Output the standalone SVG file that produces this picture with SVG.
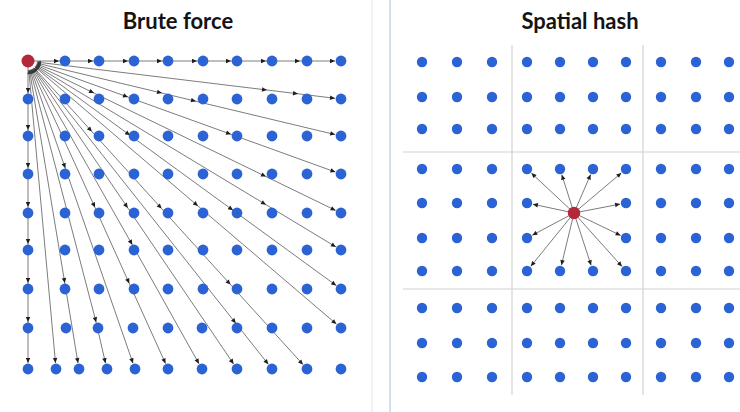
<svg xmlns="http://www.w3.org/2000/svg" width="740" height="412" viewBox="0 0 740 412">
  <style>
    .title { font-family: Lato, "Open Sans", "Liberation Sans", sans-serif; font-weight: 700; font-size: 22px; fill: #141414; text-anchor: middle; }
    .dot { fill: #2b62d4; }
    .src { fill: #b3293a; }
    .ray { fill: none; stroke: #5a5a5a; stroke-width: 0.8; marker-mid: url(#ah); marker-end: url(#ah); }
    .fan { marker-start: url(#ahs); }
    .grid { stroke: #d2d2d2; stroke-width: 1.2; fill: none; }
  </style>
  <defs>
    <marker id="ah" viewBox="0 0 10 10" refX="10" refY="5" markerWidth="6" markerHeight="5" markerUnits="userSpaceOnUse" orient="auto">
      <path d="M0,0.5 L10,5 L0,9.5 z" fill="#1e1e1e"/>
    </marker>
    <marker id="ahs" viewBox="0 0 10 10" refX="10" refY="5" markerWidth="5" markerHeight="4" markerUnits="userSpaceOnUse" orient="auto-start-reverse">
      <path d="M0,0.5 L10,5 L0,9.5 z" fill="#3a3a3a"/>
    </marker>
  </defs>

  <rect width="740" height="412" fill="#ffffff"/>

  <!-- panel divider -->
  <line x1="372" y1="0" x2="372" y2="412" stroke="#e4e4e4" stroke-width="1"/>
  <line x1="390" y1="0" x2="390" y2="412" stroke="#c3d4f2" stroke-width="1.5"/>

  <text class="title" x="178" y="29">Brute force</text>
  <text class="title" x="580" y="29">Spatial hash</text>

  <!-- spatial hash cell boundaries -->
  <g id="hash-grid">
    <line class="grid" x1="512" y1="45" x2="512" y2="395"/>
    <line class="grid" x1="643" y1="45" x2="643" y2="395"/>
    <line class="grid" x1="403" y1="152" x2="740" y2="152"/>
    <line class="grid" x1="403" y1="289" x2="740" y2="289"/>
  </g>

  <!-- connectors -->
  <g id="connectors">
    <!-- brute force: top row and left column chains -->
    <polyline class="ray" points="28,61 59,61 93,61 128,61 162,61 197,61 231,61 266,61 300,61 335,61"/>
    <polyline class="ray" points="28,61 28,93 28,130 28,168 28,207 28,244 28,283 28,322 28,363"/>
    <!-- brute force: rays to right column -->
    <polyline class="ray fan" points="36.9,62.1 267,90 298,93.8 335,98.3"/>
    <polyline class="ray fan" points="36.8,63.1 162,93.1 196,101.3 335.2,134.6"/>
    <polyline class="ray fan" points="36.5,64.1 128,97.1 231,134.3 335.4,172"/>
    <polyline class="ray fan" points="36.1,64.9 94,93.1 266,176.6 335.6,210.4"/>
    <polyline class="ray fan" points="35.7,65.7 266,204.7 335.9,246.9"/>
    <polyline class="ray fan" points="35.3,66.3 130,135.3 233,210.3 336.2,285.5"/>
    <polyline class="ray fan" points="34.8,66.8 198,206 336.4,324.1"/>
    <!-- brute force: rays to bottom row -->
    <polyline class="ray fan" points="34,67.7 91.9,131.6 161.6,208.6 230.5,284.6 303,364.6"/>
    <polyline class="ray fan" points="33.6,68.1 235.8,323.3 268.3,364.3"/>
    <polyline class="ray fan" points="33.1,68.4 127.8,208 233.6,364"/>
    <polyline class="ray fan" points="32.4,68.8 132.3,244.8 199,363.8"/>
    <polyline class="ray fan" points="31.7,69.2 95,207.5 129.3,283.5 165.5,363.5"/>
    <polyline class="ray fan" points="31,69.5 65.3,168.3 133,363.3"/>
    <polyline class="ray fan" points="30.2,69.7 96.1,322.2 105.5,363.2"/>
    <polyline class="ray fan" points="29.5,69.9 64.8,283.1 78,363.1"/>
    <polyline class="ray fan" points="28.8,70 55.5,363"/>
    <!-- spatial hash: query to neighbours in the cell -->
    <polyline class="ray" points="574,213 531.4,173.1"/>
    <polyline class="ray" points="574,213 561.8,174.7"/>
    <polyline class="ray" points="574,213 590.6,174.5"/>
    <polyline class="ray" points="574,213 621.4,172.9"/>
    <polyline class="ray" points="574,213 532.9,204.2"/>
    <polyline class="ray" points="574,213 620.1,204.1"/>
    <polyline class="ray" points="574,213 532.3,235.2"/>
    <polyline class="ray" points="574,213 620.6,235.4"/>
    <polyline class="ray" points="574,213 530.8,266.3"/>
    <polyline class="ray" points="574,213 561.4,265.2"/>
    <polyline class="ray" points="574,213 591.1,265.3"/>
    <polyline class="ray" points="574,213 622,266.5"/>
  </g>

  <!-- brute force points -->
  <g id="bf-points">
    <g id="bf-source"><circle class="src" cx="28" cy="61" r="6.5"/></g>
    <g id="bf-r1c2"><circle class="dot" cx="65" cy="61" r="5.4"/></g>
    <g id="bf-r1c3"><circle class="dot" cx="99" cy="61" r="5.4"/></g>
    <g id="bf-r1c4"><circle class="dot" cx="134" cy="61" r="5.4"/></g>
    <g id="bf-r1c5"><circle class="dot" cx="168" cy="61" r="5.4"/></g>
    <g id="bf-r1c6"><circle class="dot" cx="203" cy="61" r="5.4"/></g>
    <g id="bf-r1c7"><circle class="dot" cx="237" cy="61" r="5.4"/></g>
    <g id="bf-r1c8"><circle class="dot" cx="272" cy="61" r="5.4"/></g>
    <g id="bf-r1c9"><circle class="dot" cx="307" cy="61" r="5.4"/></g>
    <g id="bf-r1c10"><circle class="dot" cx="341" cy="61" r="5.4"/></g>

    <g id="bf-r2c1"><circle class="dot" cx="28" cy="99" r="5.4"/></g>
    <g id="bf-r2c2"><circle class="dot" cx="65" cy="99" r="5.4"/></g>
    <g id="bf-r2c3"><circle class="dot" cx="99" cy="99" r="5.4"/></g>
    <g id="bf-r2c4"><circle class="dot" cx="134" cy="99" r="5.4"/></g>
    <g id="bf-r2c5"><circle class="dot" cx="168" cy="99" r="5.4"/></g>
    <g id="bf-r2c6"><circle class="dot" cx="203" cy="99" r="5.4"/></g>
    <g id="bf-r2c7"><circle class="dot" cx="237" cy="99" r="5.4"/></g>
    <g id="bf-r2c8"><circle class="dot" cx="272" cy="99" r="5.4"/></g>
    <g id="bf-r2c9"><circle class="dot" cx="307" cy="99" r="5.4"/></g>
    <g id="bf-r2c10"><circle class="dot" cx="341" cy="99" r="5.4"/></g>

    <g id="bf-r3c1"><circle class="dot" cx="28" cy="136" r="5.4"/></g>
    <g id="bf-r3c2"><circle class="dot" cx="65" cy="136" r="5.4"/></g>
    <g id="bf-r3c3"><circle class="dot" cx="99" cy="136" r="5.4"/></g>
    <g id="bf-r3c4"><circle class="dot" cx="134" cy="136" r="5.4"/></g>
    <g id="bf-r3c5"><circle class="dot" cx="168" cy="136" r="5.4"/></g>
    <g id="bf-r3c6"><circle class="dot" cx="203" cy="136" r="5.4"/></g>
    <g id="bf-r3c7"><circle class="dot" cx="237" cy="136" r="5.4"/></g>
    <g id="bf-r3c8"><circle class="dot" cx="272" cy="136" r="5.4"/></g>
    <g id="bf-r3c9"><circle class="dot" cx="307" cy="136" r="5.4"/></g>
    <g id="bf-r3c10"><circle class="dot" cx="341" cy="136" r="5.4"/></g>

    <g id="bf-r4c1"><circle class="dot" cx="28" cy="174" r="5.4"/></g>
    <g id="bf-r4c2"><circle class="dot" cx="65" cy="174" r="5.4"/></g>
    <g id="bf-r4c3"><circle class="dot" cx="99" cy="174" r="5.4"/></g>
    <g id="bf-r4c4"><circle class="dot" cx="134" cy="174" r="5.4"/></g>
    <g id="bf-r4c5"><circle class="dot" cx="168" cy="174" r="5.4"/></g>
    <g id="bf-r4c6"><circle class="dot" cx="203" cy="174" r="5.4"/></g>
    <g id="bf-r4c7"><circle class="dot" cx="237" cy="174" r="5.4"/></g>
    <g id="bf-r4c8"><circle class="dot" cx="272" cy="174" r="5.4"/></g>
    <g id="bf-r4c9"><circle class="dot" cx="307" cy="174" r="5.4"/></g>
    <g id="bf-r4c10"><circle class="dot" cx="341" cy="174" r="5.4"/></g>

    <g id="bf-r5c1"><circle class="dot" cx="28" cy="213" r="5.4"/></g>
    <g id="bf-r5c2"><circle class="dot" cx="65" cy="213" r="5.4"/></g>
    <g id="bf-r5c3"><circle class="dot" cx="99" cy="213" r="5.4"/></g>
    <g id="bf-r5c4"><circle class="dot" cx="134" cy="213" r="5.4"/></g>
    <g id="bf-r5c5"><circle class="dot" cx="168" cy="213" r="5.4"/></g>
    <g id="bf-r5c6"><circle class="dot" cx="203" cy="213" r="5.4"/></g>
    <g id="bf-r5c7"><circle class="dot" cx="237" cy="213" r="5.4"/></g>
    <g id="bf-r5c8"><circle class="dot" cx="272" cy="213" r="5.4"/></g>
    <g id="bf-r5c9"><circle class="dot" cx="307" cy="213" r="5.4"/></g>
    <g id="bf-r5c10"><circle class="dot" cx="341" cy="213" r="5.4"/></g>

    <g id="bf-r6c1"><circle class="dot" cx="28" cy="250" r="5.4"/></g>
    <g id="bf-r6c2"><circle class="dot" cx="65" cy="250" r="5.4"/></g>
    <g id="bf-r6c3"><circle class="dot" cx="99" cy="250" r="5.4"/></g>
    <g id="bf-r6c4"><circle class="dot" cx="134" cy="250" r="5.4"/></g>
    <g id="bf-r6c5"><circle class="dot" cx="168" cy="250" r="5.4"/></g>
    <g id="bf-r6c6"><circle class="dot" cx="203" cy="250" r="5.4"/></g>
    <g id="bf-r6c7"><circle class="dot" cx="237" cy="250" r="5.4"/></g>
    <g id="bf-r6c8"><circle class="dot" cx="272" cy="250" r="5.4"/></g>
    <g id="bf-r6c9"><circle class="dot" cx="307" cy="250" r="5.4"/></g>
    <g id="bf-r6c10"><circle class="dot" cx="341" cy="250" r="5.4"/></g>

    <g id="bf-r7c1"><circle class="dot" cx="28" cy="289" r="5.4"/></g>
    <g id="bf-r7c2"><circle class="dot" cx="65" cy="289" r="5.4"/></g>
    <g id="bf-r7c3"><circle class="dot" cx="99" cy="289" r="5.4"/></g>
    <g id="bf-r7c4"><circle class="dot" cx="134" cy="289" r="5.4"/></g>
    <g id="bf-r7c5"><circle class="dot" cx="168" cy="289" r="5.4"/></g>
    <g id="bf-r7c6"><circle class="dot" cx="203" cy="289" r="5.4"/></g>
    <g id="bf-r7c7"><circle class="dot" cx="237" cy="289" r="5.4"/></g>
    <g id="bf-r7c8"><circle class="dot" cx="272" cy="289" r="5.4"/></g>
    <g id="bf-r7c9"><circle class="dot" cx="307" cy="289" r="5.4"/></g>
    <g id="bf-r7c10"><circle class="dot" cx="341" cy="289" r="5.4"/></g>

    <g id="bf-r8c1"><circle class="dot" cx="28" cy="328" r="5.4"/></g>
    <g id="bf-r8c2"><circle class="dot" cx="66" cy="328" r="5.4"/></g>
    <g id="bf-r8c3"><circle class="dot" cx="98" cy="328" r="5.4"/></g>
    <g id="bf-r8c4"><circle class="dot" cx="133" cy="328" r="5.4"/></g>
    <g id="bf-r8c5"><circle class="dot" cx="168" cy="328" r="5.4"/></g>
    <g id="bf-r8c6"><circle class="dot" cx="202" cy="328" r="5.4"/></g>
    <g id="bf-r8c7"><circle class="dot" cx="237" cy="328" r="5.4"/></g>
    <g id="bf-r8c8"><circle class="dot" cx="272" cy="328" r="5.4"/></g>
    <g id="bf-r8c9"><circle class="dot" cx="307" cy="328" r="5.4"/></g>
    <g id="bf-r8c10"><circle class="dot" cx="341" cy="328" r="5.4"/></g>

    <g id="bf-r9c1"><circle class="dot" cx="28" cy="369" r="5.4"/></g>
    <g id="bf-r9c2"><circle class="dot" cx="56" cy="369" r="5.4"/></g>
    <g id="bf-r9c3"><circle class="dot" cx="79" cy="369" r="5.4"/></g>
    <g id="bf-r9c4"><circle class="dot" cx="107" cy="369" r="5.4"/></g>
    <g id="bf-r9c5"><circle class="dot" cx="135" cy="369" r="5.4"/></g>
    <g id="bf-r9c6"><circle class="dot" cx="168" cy="369" r="5.4"/></g>
    <g id="bf-r9c7"><circle class="dot" cx="202" cy="369" r="5.4"/></g>
    <g id="bf-r9c8"><circle class="dot" cx="237" cy="369" r="5.4"/></g>
    <g id="bf-r9c9"><circle class="dot" cx="272" cy="369" r="5.4"/></g>
    <g id="bf-r9c10"><circle class="dot" cx="307" cy="369" r="5.4"/></g>
    <g id="bf-r9c11"><circle class="dot" cx="341" cy="369" r="5.4"/></g>
  </g>

  <!-- spatial hash points -->
  <g id="sh-points">
    <g id="sh-r1c1"><circle class="dot" cx="422" cy="62" r="5.2"/></g>
    <g id="sh-r1c2"><circle class="dot" cx="457" cy="62" r="5.2"/></g>
    <g id="sh-r1c3"><circle class="dot" cx="492" cy="62" r="5.2"/></g>
    <g id="sh-r1c4"><circle class="dot" cx="527" cy="62" r="5.2"/></g>
    <g id="sh-r1c5"><circle class="dot" cx="560" cy="62" r="5.2"/></g>
    <g id="sh-r1c6"><circle class="dot" cx="593" cy="62" r="5.2"/></g>
    <g id="sh-r1c7"><circle class="dot" cx="626" cy="62" r="5.2"/></g>
    <g id="sh-r1c8"><circle class="dot" cx="661" cy="62" r="5.2"/></g>
    <g id="sh-r1c9"><circle class="dot" cx="696" cy="62" r="5.2"/></g>
    <g id="sh-r1c10"><circle class="dot" cx="729" cy="62" r="5.2"/></g>

    <g id="sh-r2c1"><circle class="dot" cx="422" cy="97" r="5.2"/></g>
    <g id="sh-r2c2"><circle class="dot" cx="457" cy="97" r="5.2"/></g>
    <g id="sh-r2c3"><circle class="dot" cx="492" cy="97" r="5.2"/></g>
    <g id="sh-r2c4"><circle class="dot" cx="527" cy="97" r="5.2"/></g>
    <g id="sh-r2c5"><circle class="dot" cx="560" cy="97" r="5.2"/></g>
    <g id="sh-r2c6"><circle class="dot" cx="593" cy="97" r="5.2"/></g>
    <g id="sh-r2c7"><circle class="dot" cx="626" cy="97" r="5.2"/></g>
    <g id="sh-r2c8"><circle class="dot" cx="661" cy="97" r="5.2"/></g>
    <g id="sh-r2c9"><circle class="dot" cx="696" cy="97" r="5.2"/></g>
    <g id="sh-r2c10"><circle class="dot" cx="729" cy="97" r="5.2"/></g>

    <g id="sh-r3c1"><circle class="dot" cx="422" cy="129" r="5.2"/></g>
    <g id="sh-r3c2"><circle class="dot" cx="457" cy="129" r="5.2"/></g>
    <g id="sh-r3c3"><circle class="dot" cx="492" cy="129" r="5.2"/></g>
    <g id="sh-r3c4"><circle class="dot" cx="527" cy="129" r="5.2"/></g>
    <g id="sh-r3c5"><circle class="dot" cx="560" cy="129" r="5.2"/></g>
    <g id="sh-r3c6"><circle class="dot" cx="593" cy="129" r="5.2"/></g>
    <g id="sh-r3c7"><circle class="dot" cx="626" cy="129" r="5.2"/></g>
    <g id="sh-r3c8"><circle class="dot" cx="661" cy="129" r="5.2"/></g>
    <g id="sh-r3c9"><circle class="dot" cx="696" cy="129" r="5.2"/></g>
    <g id="sh-r3c10"><circle class="dot" cx="729" cy="129" r="5.2"/></g>

    <g id="sh-r4c1"><circle class="dot" cx="422" cy="169" r="5.2"/></g>
    <g id="sh-r4c2"><circle class="dot" cx="457" cy="169" r="5.2"/></g>
    <g id="sh-r4c3"><circle class="dot" cx="492" cy="169" r="5.2"/></g>
    <g id="sh-r4c4"><circle class="dot" cx="527" cy="169" r="5.2"/></g>
    <g id="sh-r4c5"><circle class="dot" cx="560" cy="169" r="5.2"/></g>
    <g id="sh-r4c6"><circle class="dot" cx="593" cy="169" r="5.2"/></g>
    <g id="sh-r4c7"><circle class="dot" cx="626" cy="169" r="5.2"/></g>
    <g id="sh-r4c8"><circle class="dot" cx="661" cy="169" r="5.2"/></g>
    <g id="sh-r4c9"><circle class="dot" cx="696" cy="169" r="5.2"/></g>
    <g id="sh-r4c10"><circle class="dot" cx="729" cy="169" r="5.2"/></g>

    <g id="sh-r5c1"><circle class="dot" cx="422" cy="203" r="5.2"/></g>
    <g id="sh-r5c2"><circle class="dot" cx="457" cy="203" r="5.2"/></g>
    <g id="sh-r5c3"><circle class="dot" cx="492" cy="203" r="5.2"/></g>
    <g id="sh-r5c4"><circle class="dot" cx="527" cy="203" r="5.2"/></g>
    <g id="sh-r5c7"><circle class="dot" cx="626" cy="203" r="5.2"/></g>
    <g id="sh-r5c8"><circle class="dot" cx="661" cy="203" r="5.2"/></g>
    <g id="sh-r5c9"><circle class="dot" cx="696" cy="203" r="5.2"/></g>
    <g id="sh-r5c10"><circle class="dot" cx="729" cy="203" r="5.2"/></g>

    <g id="sh-r6c1"><circle class="dot" cx="422" cy="238" r="5.2"/></g>
    <g id="sh-r6c2"><circle class="dot" cx="457" cy="238" r="5.2"/></g>
    <g id="sh-r6c3"><circle class="dot" cx="492" cy="238" r="5.2"/></g>
    <g id="sh-r6c4"><circle class="dot" cx="527" cy="238" r="5.2"/></g>
    <g id="sh-r6c7"><circle class="dot" cx="626" cy="238" r="5.2"/></g>
    <g id="sh-r6c8"><circle class="dot" cx="661" cy="238" r="5.2"/></g>
    <g id="sh-r6c9"><circle class="dot" cx="696" cy="238" r="5.2"/></g>
    <g id="sh-r6c10"><circle class="dot" cx="729" cy="238" r="5.2"/></g>

    <g id="sh-r7c1"><circle class="dot" cx="422" cy="271" r="5.2"/></g>
    <g id="sh-r7c2"><circle class="dot" cx="457" cy="271" r="5.2"/></g>
    <g id="sh-r7c3"><circle class="dot" cx="492" cy="271" r="5.2"/></g>
    <g id="sh-r7c4"><circle class="dot" cx="527" cy="271" r="5.2"/></g>
    <g id="sh-r7c5"><circle class="dot" cx="560" cy="271" r="5.2"/></g>
    <g id="sh-r7c6"><circle class="dot" cx="593" cy="271" r="5.2"/></g>
    <g id="sh-r7c7"><circle class="dot" cx="626" cy="271" r="5.2"/></g>
    <g id="sh-r7c8"><circle class="dot" cx="661" cy="271" r="5.2"/></g>
    <g id="sh-r7c9"><circle class="dot" cx="696" cy="271" r="5.2"/></g>
    <g id="sh-r7c10"><circle class="dot" cx="729" cy="271" r="5.2"/></g>

    <g id="sh-r8c1"><circle class="dot" cx="422" cy="308" r="5.2"/></g>
    <g id="sh-r8c2"><circle class="dot" cx="457" cy="308" r="5.2"/></g>
    <g id="sh-r8c3"><circle class="dot" cx="492" cy="308" r="5.2"/></g>
    <g id="sh-r8c4"><circle class="dot" cx="527" cy="308" r="5.2"/></g>
    <g id="sh-r8c5"><circle class="dot" cx="560" cy="308" r="5.2"/></g>
    <g id="sh-r8c6"><circle class="dot" cx="593" cy="308" r="5.2"/></g>
    <g id="sh-r8c7"><circle class="dot" cx="626" cy="308" r="5.2"/></g>
    <g id="sh-r8c8"><circle class="dot" cx="661" cy="308" r="5.2"/></g>
    <g id="sh-r8c9"><circle class="dot" cx="696" cy="308" r="5.2"/></g>
    <g id="sh-r8c10"><circle class="dot" cx="729" cy="308" r="5.2"/></g>

    <g id="sh-r9c1"><circle class="dot" cx="422" cy="343" r="5.2"/></g>
    <g id="sh-r9c2"><circle class="dot" cx="457" cy="343" r="5.2"/></g>
    <g id="sh-r9c3"><circle class="dot" cx="492" cy="343" r="5.2"/></g>
    <g id="sh-r9c4"><circle class="dot" cx="527" cy="343" r="5.2"/></g>
    <g id="sh-r9c5"><circle class="dot" cx="560" cy="343" r="5.2"/></g>
    <g id="sh-r9c6"><circle class="dot" cx="593" cy="343" r="5.2"/></g>
    <g id="sh-r9c7"><circle class="dot" cx="626" cy="343" r="5.2"/></g>
    <g id="sh-r9c8"><circle class="dot" cx="661" cy="343" r="5.2"/></g>
    <g id="sh-r9c9"><circle class="dot" cx="696" cy="343" r="5.2"/></g>
    <g id="sh-r9c10"><circle class="dot" cx="729" cy="343" r="5.2"/></g>

    <g id="sh-r10c1"><circle class="dot" cx="422" cy="377" r="5.2"/></g>
    <g id="sh-r10c2"><circle class="dot" cx="457" cy="377" r="5.2"/></g>
    <g id="sh-r10c3"><circle class="dot" cx="492" cy="377" r="5.2"/></g>
    <g id="sh-r10c4"><circle class="dot" cx="527" cy="377" r="5.2"/></g>
    <g id="sh-r10c5"><circle class="dot" cx="560" cy="377" r="5.2"/></g>
    <g id="sh-r10c6"><circle class="dot" cx="593" cy="377" r="5.2"/></g>
    <g id="sh-r10c7"><circle class="dot" cx="626" cy="377" r="5.2"/></g>
    <g id="sh-r10c8"><circle class="dot" cx="661" cy="377" r="5.2"/></g>
    <g id="sh-r10c9"><circle class="dot" cx="696" cy="377" r="5.2"/></g>
    <g id="sh-r10c10"><circle class="dot" cx="729" cy="377" r="5.2"/></g>

    <g id="sh-source"><circle class="src" cx="574" cy="213" r="6.2"/></g>
  </g>
</svg>
